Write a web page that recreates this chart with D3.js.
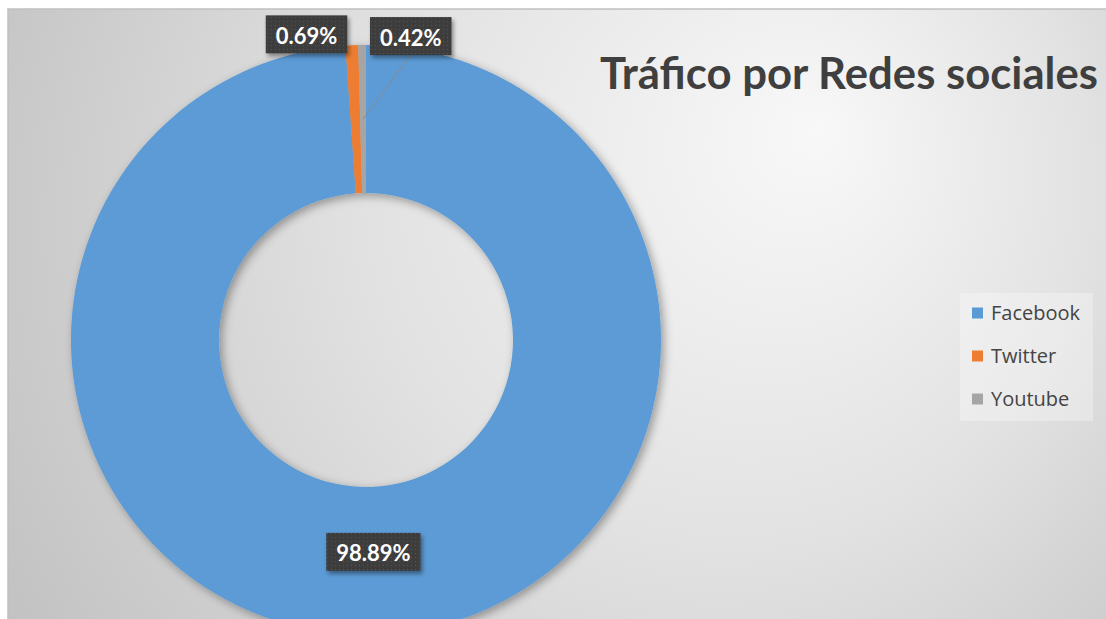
<!DOCTYPE html>
<html>
<head>
<meta charset="utf-8">
<script src="https://cdn.jsdelivr.net/npm/d3@7"></script>
<style>
  html, body { margin: 0; padding: 0; background: #fff; }
  svg { display: block; }
</style>
</head>
<body>
<svg id="chart" width="1106" height="619"></svg>
<script>
// data
var categories = ["Facebook", "Twitter", "Youtube"];
var values = [98.89, 0.69, 0.42];
var colors = ["#5B9BD5", "#ED7D31", "#A5A5A5"];
var title = "Tráfico por Redes sociales";

var svg = d3.select("#chart"),
    width = +svg.attr("width"),
    height = +svg.attr("height");

var defs = svg.append("defs");

// background gradient
var bg = defs.append("radialGradient")
    .attr("id", "bgGrad")
    .attr("gradientUnits", "userSpaceOnUse")
    .attr("cx", 640).attr("cy", 240).attr("r", 720)
    .attr("fx", 820).attr("fy", 130);
bg.append("stop").attr("offset", 0).attr("stop-color", "#f8f8f8");
bg.append("stop").attr("offset", 0.5).attr("stop-color", "#e2e2e2");
bg.append("stop").attr("offset", 1).attr("stop-color", "#c3c3c3");

var sh = defs.append("filter").attr("id", "ringShadow")
    .attr("x", "-20%").attr("y", "-20%").attr("width", "140%").attr("height", "140%");
sh.append("feDropShadow").attr("dx", 3).attr("dy", 3).attr("stdDeviation", 5)
    .attr("flood-color", "#000").attr("flood-opacity", 0.35);

var bsh = defs.append("filter").attr("id", "boxShadow")
    .attr("x", "-20%").attr("y", "-30%").attr("width", "140%").attr("height", "160%");
bsh.append("feDropShadow").attr("dx", 2).attr("dy", 3).attr("stdDeviation", 2)
    .attr("flood-color", "#000").attr("flood-opacity", 0.4);

var pat = defs.append("pattern").attr("id", "dots")
    .attr("patternUnits", "userSpaceOnUse").attr("width", 4).attr("height", 4);
pat.append("rect").attr("width", 4).attr("height", 4).attr("fill", "#3d3d3d");
pat.append("rect").attr("x", 1).attr("y", 1).attr("width", 1).attr("height", 1).attr("fill", "#555");

// chart area
svg.append("rect")
    .attr("x", 8).attr("y", 9)
    .attr("width", width).attr("height", height)
    .attr("fill", "url(#bgGrad)")
    .attr("stroke", "#c0c0c0").attr("stroke-width", 1.5);

var cx = 366, cy = 340, outerR = 295, innerR = 147;

var color = d3.scaleOrdinal().domain(categories).range(colors);

var pie = d3.pie().sort(null).value(function(d) { return d.value; });
var arcs = pie(categories.map(function(c, i) { return { name: c, value: values[i] }; }));

var arc = d3.arc().innerRadius(innerR).outerRadius(outerR);

var g = svg.append("g").attr("transform", "translate(" + cx + "," + cy + ")");

g.append("g")
    .attr("filter", "url(#ringShadow)")
  .selectAll("path")
  .data(arcs)
  .enter().append("path")
    .attr("d", arc)
    .attr("fill", function(d) { return color(d.data.name); });

// labels
var labelLayout = [
  { r: 212, anchor: "middle", dx: 0, leader: false },
  { r: 306, anchor: "end", dx: -4, leader: false },
  { r: 304, anchor: "start", dx: 8, leader: true }
];

var fmt = function(v) { return v.toFixed(2) + "%"; };

arcs.forEach(function(d, i) {
  var lay = labelLayout[i];
  var p = d3.arc().innerRadius(lay.r).outerRadius(lay.r).centroid(d);
  var lg = g.append("g");
  var txt = lg.append("text")
      .attr("font-family", "Lato, 'Open Sans', sans-serif")
      .attr("font-weight", "bold")
      .attr("font-size", 22)
      .attr("fill", "#fff")
      .attr("text-anchor", "middle")
      .attr("dominant-baseline", "central")
      .text(fmt(d.data.value));
  var tw = txt.node().getComputedTextLength();
  var bw = tw + 20, bh = 38;
  var bx;
  if (lay.anchor === "end") bx = p[0] + lay.dx - bw;
  else if (lay.anchor === "start") bx = p[0] + lay.dx;
  else bx = p[0] - bw / 2;
  var by = p[1] - bh / 2;

  if (lay.leader) {
    var c = arc.centroid(d);
    g.insert("line", ":scope > g:nth-child(2)")
        .attr("x1", bx + bw / 2).attr("y1", by + bh)
        .attr("x2", c[0]).attr("y2", c[1])
        .attr("stroke", "#8a8a8a").attr("stroke-width", 1);
  }

  lg.insert("rect", "text")
      .attr("x", bx).attr("y", by)
      .attr("width", bw).attr("height", bh)
      .attr("fill", "url(#dots)")
      .attr("filter", "url(#boxShadow)");
  txt.attr("x", bx + bw / 2).attr("y", by + bh / 2 + 1);
});

// title
var t = svg.append("text")
    .attr("x", 600).attr("y", 89)
    .attr("font-family", "Lato, 'Open Sans', sans-serif")
    .attr("font-weight", "bold")
    .attr("font-size", 43)
    .attr("fill", "#3f3f3f")
    .text(title);
var tl = t.node().getComputedTextLength();
if (Math.abs(tl - 498) > 4) t.attr("textLength", 498).attr("lengthAdjust", "spacingAndGlyphs");

// legend
var legend = svg.append("g");
legend.append("rect")
    .attr("x", 960).attr("y", 293)
    .attr("width", 133).attr("height", 128)
    .attr("fill", "#ffffff").attr("fill-opacity", 0.3);

var ly = d3.scalePoint().domain(categories).range([313, 399]);

var items = legend.selectAll("g.item")
    .data(categories)
  .enter().append("g")
    .attr("class", "item")
    .attr("transform", function(d) { return "translate(972," + ly(d) + ")"; });

items.append("rect")
    .attr("x", 0).attr("y", -5.5)
    .attr("width", 11).attr("height", 11)
    .attr("fill", function(d) { return color(d); });

items.append("text")
    .attr("x", 19).attr("y", 6.5)
    .attr("font-family", "'Open Sans', Lato, sans-serif")
    .attr("font-size", 20)
    .attr("fill", "#444")
    .text(function(d) { return d; });
</script>
</body>
</html>
